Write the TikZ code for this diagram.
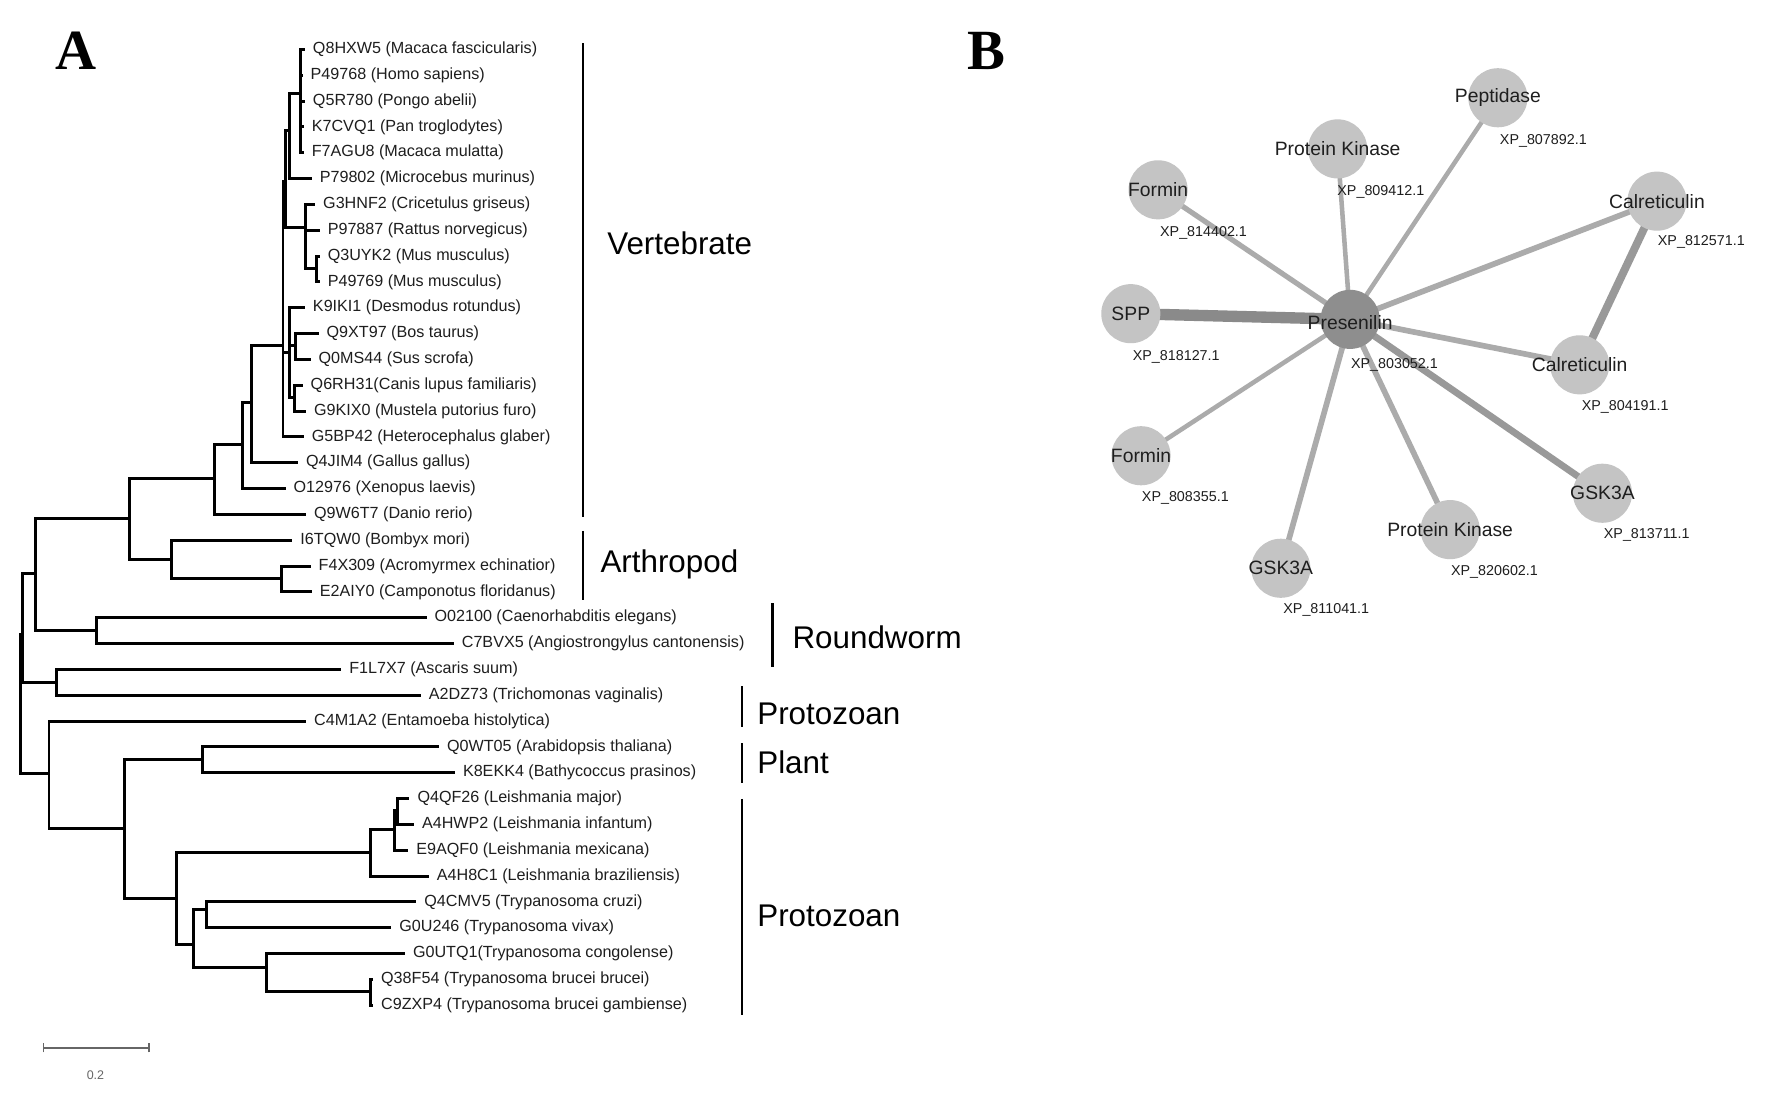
\documentclass[tikz,border=0pt]{standalone}
\usepackage{fontspec}
\setmainfont{Liberation Sans}
\newfontfamily\lserif{Liberation Serif}
\usetikzlibrary{backgrounds}
\definecolor{nodegray}{HTML}{C4C4C4}
\definecolor{centgray}{HTML}{8E8E8E}
\definecolor{edgegray}{HTML}{ABABAB}
\definecolor{edgedark}{HTML}{8A8A8A}
\definecolor{edgemid}{HTML}{999999}
\definecolor{txt}{HTML}{1E1E1E}
\begin{document}
\begin{tikzpicture}[x=0.5pt,y=-0.5pt,
  br/.style={line width=1.3pt,line join=miter,line cap=rect},
  lf/.style={anchor=west,inner sep=0pt,text=txt,font=\fontsize{7.1}{8}\selectfont},
  cladebar/.style={line width=1.2pt},
  cladelab/.style={anchor=west,inner sep=0pt,font=\fontsize{13.8}{16}\selectfont},
  panel/.style={inner sep=0pt,font=\lserif\bfseries\fontsize{25}{28}\selectfont},
  pn/.style={circle,fill=nodegray,minimum size=26pt,inner sep=0pt},
  pc/.style={circle,fill=centgray,minimum size=26pt,inner sep=0pt},
  plab/.style={text=txt,inner sep=0pt,font=\fontsize{8.5}{10}\selectfont},
  xp/.style={text=txt,inner sep=0pt,font=\fontsize{6.3}{7}\selectfont},
  ed/.style={draw=edgegray,line width=2pt}]
\useasboundingbox (0,0) rectangle (1568,966);
\begin{pgfonlayer}{background}
\fill[white] (0,0) rectangle (1568,966);
\end{pgfonlayer}

% ---------- Panel A ----------
\node[panel] (A) at (67,45) {A};

\foreach \i/\tx/\lab in {
 1/275/{Q8HXW5 (Macaca fascicularis)},
 2/273/{P49768 (Homo sapiens)},
 3/275/{Q5R780 (Pongo abelii)},
 4/274/{K7CVQ1 (Pan troglodytes)},
 5/274/{F7AGU8 (Macaca mulatta)},
 6/281/{P79802 (Microcebus murinus)},
 7/284/{G3HNF2 (Cricetulus griseus)},
 8/288/{P97887 (Rattus norvegicus)},
 9/288/{Q3UYK2 (Mus musculus)},
 10/288/{P49769 (Mus musculus)},
 11/275/{K9IKI1 (Desmodus rotundus)},
 12/287/{Q9XT97 (Bos taurus)},
 13/280/{Q0MS44 (Sus scrofa)},
 14/273/{Q6RH31(Canis lupus familiaris)},
 15/276/{G9KIX0 (Mustela putorius furo)},
 16/274/{G5BP42 (Heterocephalus glaber)},
 17/269/{Q4JIM4 (Gallus gallus)},
 18/258/{O12976 (Xenopus laevis)},
 19/276/{Q9W6T7 (Danio rerio)},
 20/264/{I6TQW0 (Bombyx mori)},
 21/280/{F4X309 (Acromyrmex echinatior)},
 22/281/{E2AIY0 (Camponotus floridanus)},
 23/382/{O02100 (Caenorhabditis elegans)},
 24/406/{C7BVX5 (Angiostrongylus cantonensis)},
 25/307/{F1L7X7 (Ascaris suum)},
 26/377/{A2DZ73 (Trichomonas vaginalis)},
 27/276/{C4M1A2 (Entamoeba histolytica)},
 28/393/{Q0WT05 (Arabidopsis thaliana)},
 29/407/{K8EKK4 (Bathycoccus prasinos)},
 30/367/{Q4QF26 (Leishmania major)},
 31/371/{A4HWP2 (Leishmania infantum)},
 32/366/{E9AQF0 (Leishmania mexicana)},
 33/384/{A4H8C1 (Leishmania braziliensis)},
 34/373/{Q4CMV5 (Trypanosoma cruzi)},
 35/351/{G0U246 (Trypanosoma vivax)},
 36/363/{G0UTQ1(Trypanosoma congolense)},
 37/335/{Q38F54 (Trypanosoma brucei brucei)},
 38/335/{C9ZXP4 (Trypanosoma brucei gambiense)}}{
  \coordinate (L\i) at ({\tx-8},{43.5+(\i-1)*22.73});
  \node[lf] (T\i) at (\tx,{43.5+(\i-1)*22.73}) {\lab};
}

% internal nodes
\coordinate (nP) at (264,82);
\coordinate (n1) at (255,115);
\coordinate (nMus) at (278.8,236);
\coordinate (nR) at (269,200);
\coordinate (n2) at (251,160);
\coordinate (nBS) at (260,304);
\coordinate (nCM) at (259,350);
\coordinate (nL) at (255,310);
\coordinate (nM) at (249,304);
\coordinate (nA) at (221.5,354.5);
\coordinate (nT) at (213,391.5);
\coordinate (nV) at (188.6,421);
\coordinate (nAnt) at (248,509);
\coordinate (nAr) at (150.8,492);
\coordinate (nVA) at (113.8,456);
\coordinate (nRW) at (85.2,555);
\coordinate (nAn) at (31.3,504.5);
\coordinate (nFA) at (49.8,600.7);
\coordinate (nU) at (20,558);
\coordinate (root) at (18,620);
\coordinate (nB) at (43.1,680.5);
\coordinate (nC) at (109.4,729);
\coordinate (nPl) at (178.4,668);
\coordinate (nK) at (154.9,791);
\coordinate (nLe) at (325.9,750);
\coordinate (nLe2) at (346.7,730);
\coordinate (nLe3) at (349.6,713);
\coordinate (nTr) at (170,831);
\coordinate (nTr1) at (181.8,800.4);
\coordinate (nTr2) at (234.7,851.7);
\coordinate (nBr) at (325.9,872.6);

\foreach \p/\c in {nP/L1,nP/L2,nP/L3,nP/L4,nP/L5,n1/nP,n1/L6,
  nMus/L9,nMus/L10,nR/L7,nR/L8,nR/nMus,n2/n1,n2/nR,
  nBS/L12,nBS/L13,nCM/L14,nCM/L15,nL/L11,nL/nBS,nL/nCM,
  nM/n2,nM/nL,nM/L16,nA/nM,nA/L17,nT/nA,nT/L18,nV/nT,nV/L19,
  nAnt/L21,nAnt/L22,nAr/L20,nAr/nAnt,nVA/nV,nVA/nAr,
  nRW/L23,nRW/L24,nAn/nVA,nAn/nRW,nFA/L25,nFA/L26,nU/nAn,nU/nFA,
  root/nU,root/nB,nB/L27,nB/nC,nC/nPl,nC/nK,nPl/L28,nPl/L29,
  nK/nLe,nK/nTr,nLe/nLe2,nLe/L33,nLe2/nLe3,nLe2/L32,nLe3/L30,nLe3/L31,
  nTr/nTr1,nTr/nTr2,nTr1/L34,nTr1/L35,nTr2/L36,nTr2/nBr,nBr/L37,nBr/L38}{
  \draw[br] (\p) |- (\c);
}

% clade bars
\draw[cladebar] (513,38) -- (513,455);
\draw[cladebar] (513,467) -- (513,528);
\draw[cladebar] (680,531) -- (680,587);
\draw[cladebar] (653,604) -- (653,640);
\draw[cladebar] (653,654) -- (653,689);
\draw[cladebar] (653,703) -- (653,893);
\node[cladelab] (cv) at (534,214) {Vertebrate};
\node[cladelab] (ca) at (528,497) {Arthropod};
\node[cladelab] (cr) at (697,561) {Roundworm};
\node[cladelab] (cp1) at (666,628) {Protozoan};
\node[cladelab] (cpl) at (666,671) {Plant};
\node[cladelab] (cp2) at (666,806) {Protozoan};

% scale bar
\coordinate (sb1) at (38,922);
\coordinate (sb2) at (131,922);
\draw[gray!80!black,line width=0.6pt] (sb1) -- (sb2);
\draw[gray!80!black,line width=0.6pt] ([yshift=-2pt]sb1) -- ([yshift=2pt]sb1);
\draw[gray!80!black,line width=0.6pt] ([yshift=-2pt]sb2) -- ([yshift=2pt]sb2);
\node[inner sep=0pt,text=gray!80!black,font=\fontsize{5.5}{6}\selectfont] (sbl) at (84,946) {0.2};

% ---------- Panel B ----------
\node[panel] (B) at (868,45) {B};

\node[pn,label={[plab]center:Peptidase}] (pep) at (1318,86) {};
\node[pn,label={[plab]center:Protein Kinase}] (pk1) at (1177,131) {};
\node[pn,label={[plab]center:Formin}] (fo1) at (1019,167) {};
\node[pn,label={[plab]center:Calreticulin}] (ca1) at (1458,177) {};
\node[pn,label={[plab]center:SPP}] (spp) at (995,276) {};
\node[pc] (pre) at (1188,281) {};
\node[plab] (prel) at (1188,284) {Presenilin};
\node[pn,label={[plab]center:Calreticulin}] (ca2) at (1390,321) {};
\node[pn,label={[plab]center:Formin}] (fo2) at (1004,401) {};
\node[pn,label={[plab]center:GSK3A}] (gs1) at (1410,434) {};
\node[pn,label={[plab]center:Protein Kinase}] (pk2) at (1276,466) {};
\node[pn,label={[plab]center:GSK3A}] (gs2) at (1127,500) {};

\node[xp] (x1) at (1358,124) {XP\_807892.1};
\node[xp] (x2) at (1215,169) {XP\_809412.1};
\node[xp] (x3) at (1059,205) {XP\_814402.1};
\node[xp] (x4) at (1497,213) {XP\_812571.1};
\node[xp] (x5) at (1035,314) {XP\_818127.1};
\node[xp] (x6) at (1227,321) {XP\_803052.1};
\node[xp] (x7) at (1430,358) {XP\_804191.1};
\node[xp] (x8) at (1043,438) {XP\_808355.1};
\node[xp] (x9) at (1449,471) {XP\_813711.1};
\node[xp] (x10) at (1315,503) {XP\_820602.1};
\node[xp] (x11) at (1167,537) {XP\_811041.1};

\begin{pgfonlayer}{background}
\draw[ed] (pre.center) -- (pep.center);
\draw[ed] (pre.center) -- (pk1.center);
\draw[ed,line width=2.3pt] (pre.center) -- (fo1.center);
\draw[ed,line width=2.5pt] (pre.center) -- (ca1.center);
\draw[ed,draw=edgedark,line width=5pt] (pre.center) -- (spp.center);
\draw[ed,line width=2.5pt] (pre.center) -- (ca2.center);
\draw[ed] (pre.center) -- (fo2.center);
\draw[ed,draw=edgemid,line width=3pt] (pre.center) -- (gs1.center);
\draw[ed,line width=2.5pt] (pre.center) -- (pk2.center);
\draw[ed,line width=2.5pt] (pre.center) -- (gs2.center);
\draw[ed,draw=edgemid,line width=3.5pt] (ca1.center) -- (ca2.center);
\end{pgfonlayer}
\end{tikzpicture}
\end{document}
